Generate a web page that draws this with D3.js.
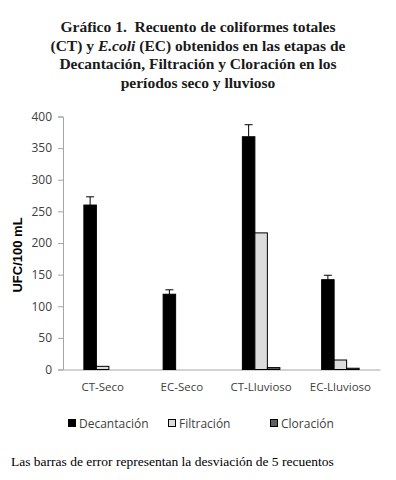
<!DOCTYPE html>
<html><head><meta charset="utf-8">
<script src="https://cdn.jsdelivr.net/npm/d3@7/dist/d3.min.js"></script>
<style>body{margin:0;background:#fff}svg{display:block}</style>
</head><body>
<script>
const categories = ["CT-Seco","EC-Seco","CT-Lluvioso","EC-Lluvioso"];
const seriesNames = ["Decantación","Filtración","Cloración"];
const decantacion = [260,119,368,142];
const filtracion = [5,0,216,15];
const cloracion = [0,0,3,2];
const decantacionErr = [13,7,19,7];
const yTicks = [0,50,100,150,200,250,300,350,400];
const titleLines = ["Gráfico 1.  Recuento de coliformes totales", null, "Decantación, Filtración y Cloración en los", "períodos seco y lluvioso"];
const footnote = "Las barras de error representan la desviación de 5 recuentos";

const W=396,H=480;
const svg=d3.select("body").append("svg").attr("width",W).attr("height",H);
const x0=63,x1=380,yBottom=369.5,yTop=116.5;
const x=d3.scaleBand().domain(categories).range([x0,x1]);
const xs=d3.scaleBand().domain(seriesNames).range([0,37.5]);
const y=d3.scaleLinear().domain([0,400]).range([yBottom,yTop]);
const fills={"Decantación":"#000000","Filtración":"#dcdcdc","Cloración":"#606060"};

// title
const serif="'Liberation Serif','DejaVu Serif',serif";
const tt=svg.append("text").attr("text-anchor","middle").attr("font-family",serif).attr("font-weight","bold").attr("font-size",15.5).attr("fill","#1a1a1a").style("white-space","pre");
const ty=[32,50.5,69,87.5];
tt.append("tspan").attr("x",198).attr("y",ty[0]).text(titleLines[0]);
const l2=tt.append("tspan").attr("x",198).attr("y",ty[1]);
l2.append("tspan").text("(CT) y ");
l2.append("tspan").attr("font-style","italic").text("E.coli");
l2.append("tspan").text(" (EC) obtenidos en las etapas de");
tt.append("tspan").attr("x",198).attr("y",ty[2]).text(titleLines[2]);
tt.append("tspan").attr("x",198).attr("y",ty[3]).text(titleLines[3]);

// y axis
const sans="'Open Sans','Liberation Sans',sans-serif";
const ya=svg.append("g").attr("transform",`translate(${x0},0)`).call(d3.axisLeft(y).tickValues(yTicks).tickSize(5).tickPadding(6));
ya.select(".domain").attr("stroke","#a6a6a6");
ya.selectAll(".tick line").attr("stroke","#a6a6a6");
ya.selectAll("text").attr("font-family",sans).attr("font-size",12).attr("fill","#404040");

// x axis line
const xa=svg.append("g").attr("transform",`translate(0,${yBottom})`).call(d3.axisBottom(x).tickSize(0).tickPadding(13));
xa.select(".domain").attr("stroke","#a6a6a6");
xa.selectAll("text").attr("font-family",sans).attr("font-size",11.5).attr("fill","#404040");

// bars
const data=[decantacion,filtracion,cloracion];
seriesNames.forEach((s,si)=>{
  svg.append("g").selectAll("rect").data(categories).join("rect")
    .attr("x",c=>x(c)+(x.bandwidth()-37.5)/2+xs(s))
    .attr("y",(c,i)=>y(data[si][i]))
    .attr("width",xs.bandwidth())
    .attr("height",(c,i)=>yBottom-y(data[si][i]))
    .attr("fill",fills[s]).attr("stroke","#000").attr("stroke-width",1)
    .attr("display",(c,i)=>data[si][i]>0?null:"none");
});
// error bars
const eg=svg.append("g").attr("stroke","#000").attr("stroke-width",1);
categories.forEach((c,i)=>{
  const cx=x(c)+(x.bandwidth()-37.5)/2+xs("Decantación")+xs.bandwidth()/2;
  const v=decantacion[i], e=decantacionErr[i];
  eg.append("line").attr("x1",cx).attr("x2",cx).attr("y1",y(v)).attr("y2",y(v+e));
  eg.append("line").attr("x1",cx-4).attr("x2",cx+4).attr("y1",y(v+e)).attr("y2",y(v+e));
});

// y title
svg.append("text").attr("transform","translate(22,255) rotate(-90)").attr("text-anchor","middle")
  .attr("font-family","'Liberation Sans',Arial,sans-serif").attr("font-weight","bold").attr("font-size",13).attr("fill","#000").text("UFC/100 mL");

// legend
const legX=[68,168,270];
const lg=svg.append("g");
seriesNames.forEach((s,i)=>{
  lg.append("rect").attr("x",legX[i]+0.5).attr("y",419.5).attr("width",7).attr("height",7).attr("fill",fills[s]).attr("stroke","#000").attr("stroke-width",1);
  lg.append("text").attr("x",legX[i]+11).attr("y",427.5).attr("font-family",sans).attr("font-size",12).attr("fill","#404040").text(s);
});

// footnote
svg.append("text").attr("x",11).attr("y",466).attr("font-family",serif).attr("font-size",13.5).attr("fill","#000").text(footnote);
</script>
</body></html>
